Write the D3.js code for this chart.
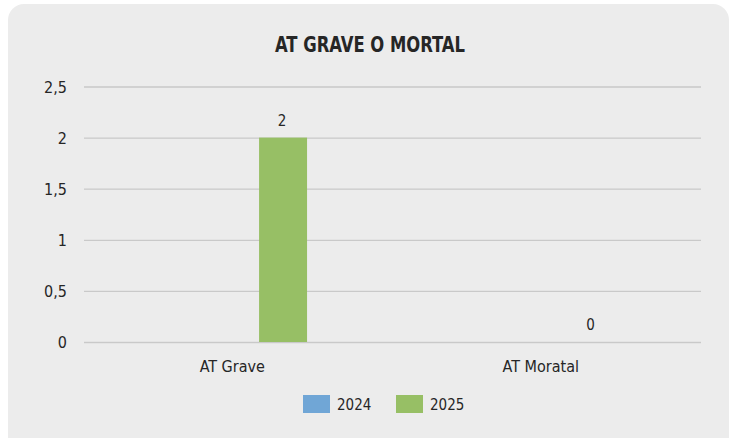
<!DOCTYPE html>
<html>
<head>
<meta charset="utf-8">
<script src="https://cdn.jsdelivr.net/npm/d3@7"></script>
<style>
  body { margin: 0; background: #fff; }
  text { font-family: "Liberation Sans Narrow", "DejaVu Sans Condensed", "Roboto", sans-serif; fill: #262626; }
  .title { font-weight: bold; font-size: 22px; }
  .tick text { font-size: 16px; }
  .grid line { stroke: #c9c9c9; stroke-width: 1.3; }
</style>
</head>
<body>
<div class="chart"></div>
<script>
const categories = ['AT Grave', 'AT Moratal'];
const series = ['2024', '2025'];
const values2024 = [null, null];
const values2025 = [2, 0];
const yTicks = [0, 0.5, 1, 1.5, 2, 2.5];

const W = 731, H = 438;
const margin = { left: 84, top: 86.5, right: 30 };
const width = 701 - 84;
const height = 342 - 86.5;

const svg = d3.select('.chart').append('svg')
  .attr('width', W).attr('height', H);

// panel background
svg.append('rect')
  .attr('x', 8).attr('y', 4)
  .attr('width', 721).attr('height', 450)
  .attr('rx', 16).attr('ry', 16)
  .attr('fill', '#ececec');

// title squeezed to the width of the condensed original
svg.append('text')
  .attr('class', 'title')
  .attr('x', 370).attr('y', 52)
  .attr('text-anchor', 'middle')
  .attr('textLength', 190)
  .attr('lengthAdjust', 'spacingAndGlyphs')
  .text('AT GRAVE O MORTAL');

const chart = svg.append('g')
  .attr('transform', `translate(${margin.left},${margin.top})`);

const x = d3.scaleBand().domain(categories).range([0, width]);
const y = d3.scaleLinear().domain([0, 2.5]).range([height, 0]);

// bars sit right of the category center, like the original
const bw = x.bandwidth();
const xSub = d3.scaleBand().domain(series)
  .range([bw * 0.412, bw * 0.723]);

const color = d3.scaleOrdinal().domain(series).range(['#70a6d6', '#97bf65']);

const fmt = d => String(d).replace('.', ',');

const yAxis = chart.append('g').attr('class', 'grid')
  .call(d3.axisLeft(y).tickValues(yTicks).tickSize(-width).tickFormat(fmt));
yAxis.select('.domain').remove();
yAxis.selectAll('.tick text').attr('x', -17).attr('dy', '0.35em');

const xAxis = chart.append('g')
  .attr('transform', `translate(0,${height})`)
  .call(d3.axisBottom(x).tickSize(0));
xAxis.select('.domain').remove();
xAxis.selectAll('.tick').attr('transform', d => `translate(${x(d) + bw / 2 - 6},0)`);
xAxis.selectAll('.tick text').attr('y', 0).attr('dy', '30px');

const rows = categories.map((c, i) => ({ cat: c, '2024': values2024[i], '2025': values2025[i] }));

const groups = chart.selectAll('.grp').data(rows).enter().append('g')
  .attr('transform', d => `translate(${x(d.cat)},0)`);

const items = groups.selectAll('.bar')
  .data(d => series.map(k => ({ key: k, value: d[k] })).filter(e => e.value !== null))
  .enter();

items.append('rect')
  .attr('x', d => xSub(d.key))
  .attr('y', d => y(d.value))
  .attr('width', xSub.bandwidth())
  .attr('height', d => height - y(d.value))
  .attr('fill', d => color(d.key));

items.append('text')
  .attr('x', d => xSub(d.key) + xSub.bandwidth() / 2 - 1)
  .attr('y', d => y(d.value) - 12)
  .attr('text-anchor', 'middle')
  .attr('font-size', '15px')
  .text(d => fmt(d.value));

// legend
const legX = [303, 396];
const leg = svg.selectAll('.leg').data(series).enter().append('g')
  .attr('transform', (d, i) => `translate(${legX[i]},395)`);
leg.append('rect').attr('width', 27).attr('height', 18).attr('fill', d => color(d));
leg.append('text').attr('x', 34).attr('y', 15).attr('font-size', '15px').text(d => d);
</script>
</body>
</html>
